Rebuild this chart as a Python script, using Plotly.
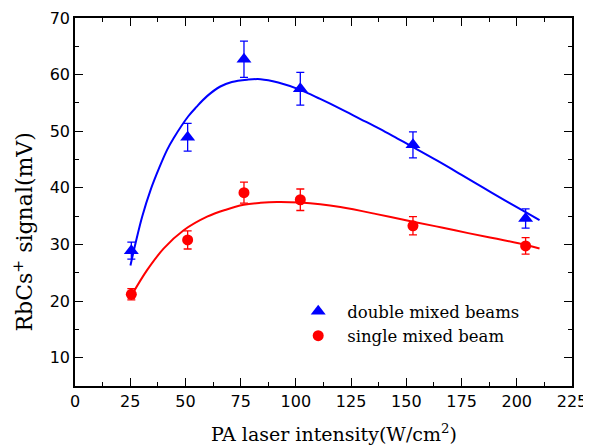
import plotly.graph_objects as go

# measured data
intensity = [25.5, 51, 76.5, 102, 153, 204]
double_signal = [28.9, 48.95, 62.7, 57.5, 47.6, 34.6]
double_err = [1.5, 2.45, 3.2, 2.9, 2.3, 1.7]
single_signal = [21.2, 30.8, 39.15, 37.9, 33.3, 29.75]
single_err = [1.0, 1.6, 1.85, 1.9, 1.6, 1.45]

# fitted curves
double_fit_x = [25.1, 27.4, 30.4, 34.2, 38.2, 41.7, 44.7, 51.2, 55, 59.8, 65.8, 71,
                77.9, 84, 92, 102, 111, 120, 129, 138, 146, 153, 164, 175, 185, 195,
                204, 210.3]
double_fit_y = [26.3, 30.2, 34.9, 39.6, 43.6, 46.7, 48.8, 52.6, 54.3, 56.2, 57.9, 58.7,
                59.1, 59.2, 58.6, 57.3, 55.7, 54.0, 52.2, 50.4, 48.7, 47.2, 44.8, 42.3,
                40.0, 37.7, 35.7, 34.3]
single_fit_x = [25.6, 32.7, 40.2, 49.2, 59.8, 68, 76.4, 84, 91.5, 102, 111, 120.1, 136,
                153, 166, 178, 191, 204.2, 210.3]
single_fit_y = [21.0, 25.5, 29.3, 32.5, 34.9, 36.1, 37.0, 37.35, 37.5, 37.4, 37.1, 36.6,
                35.4, 34.0, 33.0, 32.0, 31.0, 29.9, 29.3]

x_ticks = [0, 25, 50, 75, 100, 125, 150, 175, 200, 225]
y_ticks = [10, 20, 30, 40, 50, 60, 70]

BLUE = "#0000FF"
RED = "#FF0000"
SERIF = "DejaVu Serif"
SANS = "DejaVu Sans"

fig = go.Figure()

fig.add_trace(go.Scatter(x=double_fit_x, y=double_fit_y, mode="lines",
                         line=dict(color=BLUE, width=2, shape="spline", smoothing=1.0),
                         showlegend=False, hoverinfo="skip"))
fig.add_trace(go.Scatter(x=single_fit_x, y=single_fit_y, mode="lines",
                         line=dict(color=RED, width=2, shape="spline", smoothing=1.0),
                         showlegend=False, hoverinfo="skip"))

fig.add_trace(go.Scatter(x=intensity, y=double_signal, mode="markers",
                         name="double mixed beams",
                         marker=dict(symbol="triangle-up", size=13, color=BLUE),
                         error_y=dict(type="data", array=double_err, color=BLUE,
                                      thickness=1.3, width=4)))
fig.add_trace(go.Scatter(x=intensity, y=single_signal, mode="markers",
                         name="single mixed beam",
                         marker=dict(symbol="circle", size=11, color=RED),
                         error_y=dict(type="data", array=single_err, color=RED,
                                      thickness=1.3, width=4)))

axis_common = dict(showline=True, linecolor="black", linewidth=1.5, mirror="allticks",
                   ticks="inside", ticklen=8, tickwidth=1.2, tickcolor="black",
                   showgrid=False, zeroline=False, automargin=False,
                   tickfont=dict(family=SANS, size=16, color="black"))

fig.update_xaxes(range=[0, 225], tickvals=x_ticks, ticktext=[str(v) for v in x_ticks],
                 minor=dict(ticks="inside", ticklen=4, dtick=12.5, tick0=0,
                            tickcolor="black", tickwidth=1.2),
                 **axis_common)
fig.update_yaxes(range=[5, 70], tickvals=y_ticks, ticktext=[str(v) for v in y_ticks],
                 minor=dict(ticks="inside", ticklen=4, dtick=5, tick0=0,
                            tickcolor="black", tickwidth=1.2),
                 **axis_common)

# the page body has an 8px margin, so the figure is offset by 8px
fig.update_layout(
    width=583, height=439,
    margin=dict(l=66.5, r=19.3, t=10.3, b=61.4, autoexpand=False),
    plot_bgcolor="white", paper_bgcolor="white",
    showlegend=True,
    legend=dict(x=0.431, y=0.25, xanchor="left", yanchor="top",
                bgcolor="rgba(0,0,0,0)", borderwidth=0, itemwidth=48,
                font=dict(family=SERIF, size=16.5, color="black")),
    annotations=[
        dict(text="PA laser intensity(W/cm<sup>2</sup>)", xref="paper", yref="paper",
             x=0.522, y=-0.128, xanchor="center", yanchor="middle", showarrow=False,
             font=dict(family=SERIF, size=19, color="black")),
        dict(text="RbCs<sup>+</sup> signal(mV)", xref="paper", yref="paper",
             x=-0.104, y=0.418, xanchor="center", yanchor="middle", showarrow=False,
             textangle=-90, font=dict(family=SERIF, size=22, color="black")),
    ],
)

fig.write_html("out.html")
